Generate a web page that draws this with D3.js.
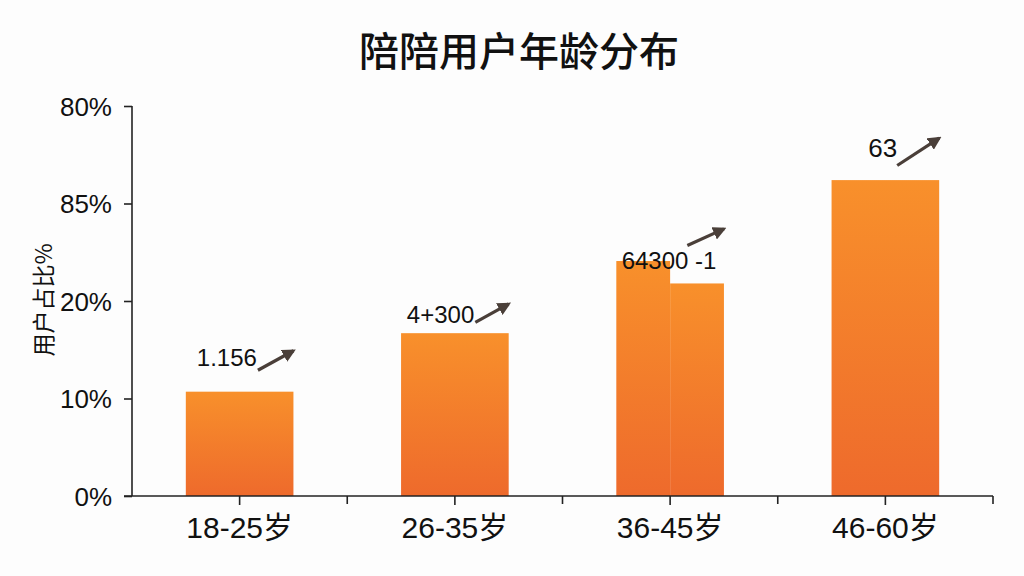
<html>
<head>
<meta charset="utf-8">
<script src="https://d3js.org/d3.v7.min.js"></script>
<style>
  body { margin: 0; background: #fdfdfd; }
  svg text { font-family: "Liberation Sans", "Noto Sans CJK SC", sans-serif; fill: #111; }
</style>
</head>
<body>
<div id="chart"></div>
<script>
// chart data
const title = "陪陪用户年龄分布";
const yTitle = "用户占比%";
const categories = ["18-25岁", "26-35岁", "36-45岁", "46-60岁"];
// 36-45 is drawn as two adjacent pieces
const barValues = [[10.7], [16.7], [24.1, 21.8], [32.4]];
const yTickValues = [0, 10, 20, 30, 40];
const yTickLabels = ["0%", "10%", "20%", "85%", "80%"];

// annotations (text, label baseline, arrow tail and tip in axis units)
const annoLabels = ["1.156", "4+300", "64300 -1", "63"];
const annoAt = [13.3, 17.7, 23.3, 34.8];
const arrowFrom = [12.9, 17.8, 25.7, 33.9];
const arrowTo = [14.9, 19.7, 27.4, 36.7];
const annoSize = [24, 24, 24, 26];
// where along the bar the text ends / the arrow starts (fraction of bar width)
const annoTextEnd = [0.66, 0.68, 0.93, 0.61];
const annoArrowStart = [0.67, 0.69, 0.66, 0.61];

const width = 1024, height = 576;
const svg = d3.select('#chart').append('svg')
    .attr('width', width)
    .attr('height', height);

svg.append('rect').attr('width', width).attr('height', height).attr('fill', '#fdfdfd');

const defs = svg.append('defs');
const grad = defs.append('linearGradient')
    .attr('id', 'barGrad')
    .attr('x1', 0).attr('y1', 0).attr('x2', 0).attr('y2', 1);
grad.append('stop').attr('offset', '0%').attr('stop-color', '#f8902b');
grad.append('stop').attr('offset', '100%').attr('stop-color', '#ee6a2c');

defs.append('marker')
    .attr('id', 'head')
    .attr('viewBox', '0 0 10 10')
    .attr('refX', 8).attr('refY', 5)
    .attr('markerWidth', 4.2).attr('markerHeight', 4.2)
    .attr('markerUnits', 'strokeWidth')
    .attr('orient', 'auto')
  .append('path')
    .attr('d', 'M0,0 L10,5 L0,10 Z')
    .attr('fill', '#4a3f39');

const x = d3.scaleBand()
    .domain(categories)
    .range([132, 993])
    .paddingInner(0.5)
    .paddingOuter(0.25);

const y = d3.scaleLinear()
    .domain([0, 40])
    .range([496, 106]);

// title
svg.append('text')
    .attr('x', 519).attr('y', 66)
    .attr('text-anchor', 'middle')
    .style('font-family', '"Noto Sans CJK SC", sans-serif')
    .style('font-size', '40px')
    .style('font-weight', 500)
    .text(title);

// y title
svg.append('text')
    .attr('transform', 'translate(42,300) rotate(-90)')
    .attr('text-anchor', 'middle')
    .attr('dominant-baseline', 'central')
    .style('font-family', '"Noto Sans CJK SC", sans-serif')
    .style('font-size', '23px')
    .text(yTitle);

// bars
categories.forEach((c, i) => {
    const parts = barValues[i];
    const sub = d3.scaleBand().domain(d3.range(parts.length)).range([x(c), x(c) + x.bandwidth()]);
    svg.selectAll(null)
        .data(parts)
        .enter().append('rect')
            .attr('x', (d, j) => sub(j))
            .attr('y', d => y(d))
            .attr('width', sub.bandwidth())
            .attr('height', d => y(0) - y(d))
            .attr('fill', 'url(#barGrad)');
});

// y axis
const yAxis = svg.append('g')
    .attr('transform', 'translate(132,0)')
    .call(d3.axisLeft(y)
        .tickValues(yTickValues)
        .tickFormat((d, i) => yTickLabels[i])
        .tickSize(8)
        .tickPadding(12));
yAxis.select('.domain').attr('d', `M0,${y(40)}V${y(0)}`);
yAxis.selectAll('line, path').attr('stroke', '#222').attr('stroke-width', 1.6);
yAxis.selectAll('text')
    .style('font-size', '26px')
    .attr('fill', '#111')
    .attr('dy', '0.36em');

// x axis
const xAxis = svg.append('g')
    .attr('transform', `translate(0,${y(0)})`)
    .call(d3.axisBottom(x).tickSize(9).tickPadding(12).tickSizeOuter(0));
xAxis.select('.domain').attr('d', 'M124,0H993');
xAxis.selectAll('line, path').attr('stroke', '#222').attr('stroke-width', 1.6);
xAxis.selectAll('text')
    .style('font-size', '30px')
    .attr('fill', '#111');

// minor ticks between categories
const bounds = categories.slice(1).map(c => x(c) - x.step() * x.paddingInner() / 2)
    .concat([x.range()[1]]);
xAxis.selectAll('.minor')
    .data(bounds)
    .enter().append('line')
        .attr('class', 'minor')
        .attr('x1', d => d).attr('x2', d => d)
        .attr('y1', 0).attr('y2', 8)
        .attr('stroke', '#222').attr('stroke-width', 1.6);

// annotations
categories.forEach((c, i) => {
    const left = x(c), bw = x.bandwidth();
    svg.append('text')
        .attr('x', left + bw * annoTextEnd[i])
        .attr('y', y(annoAt[i]))
        .attr('text-anchor', 'end')
        .style('font-size', annoSize[i] + 'px')
        .text(annoLabels[i]);
    svg.append('line')
        .attr('x1', left + bw * annoArrowStart[i])
        .attr('y1', y(arrowFrom[i]))
        .attr('x2', left + bw)
        .attr('y2', y(arrowTo[i]))
        .attr('stroke', '#4a3f39')
        .attr('stroke-width', 3.2)
        .attr('marker-end', 'url(#head)');
});
</script>
</body>
</html>
